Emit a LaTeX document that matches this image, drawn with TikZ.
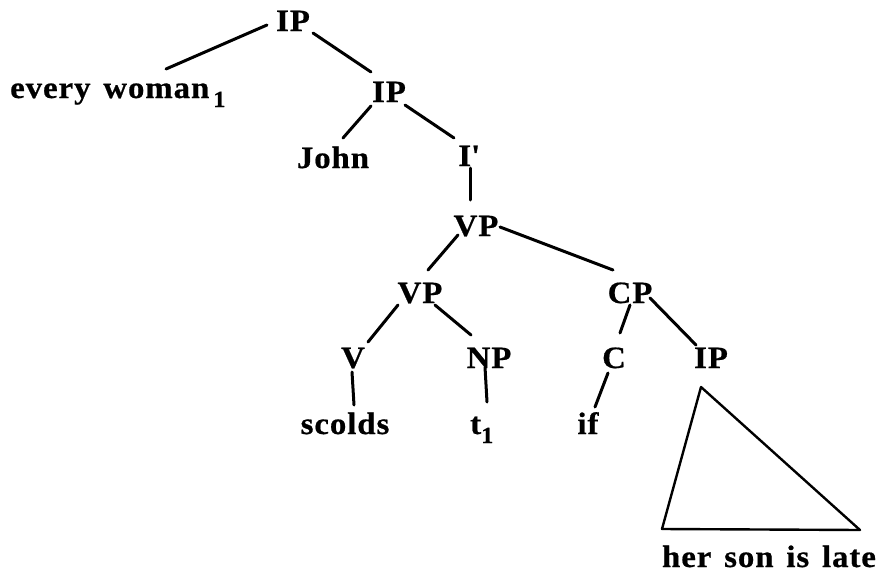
\documentclass[tikz,border=0pt]{standalone}
\usepackage{fontspec}
\setmainfont{Liberation Serif}[FakeStretch=1.06,LetterSpace=3,WordSpace=1.4,BoldFeatures={FakeBold=0.6}]
\usetikzlibrary{calc}
\tikzset{
  lbl/.style={inner sep=0pt, anchor=base, font=\fontsize{31}{32}\selectfont\bfseries},
  edge/.style={line width=3pt, line cap=round},
  tri/.style={line width=2.4pt, line join=round, line cap=round}
}
\newcommand{\subone}[1]{\hspace{#1}\raisebox{-9pt}{\fontsize{23}{23}\selectfont 1}}
\begin{document}
\begin{tikzpicture}[x=1pt,y=-1pt]
\useasboundingbox (0,0) rectangle (881,573);
% nodes
\node[lbl] (ip1) at (293,31) {IP};
\node[lbl, anchor=base west] (ew) at (10,98) {every woman\subone{4pt}};
\node[lbl] (ip2) at (389,102) {IP};
\node[lbl] (john) at (333,168) {John};
\node[lbl] (ib) at (469,166) {I\textquotesingle};
\node[lbl] (vp1) at (476,236) {VP};
\node[lbl] (vp2) at (420,303) {VP};
\node[lbl] (cp) at (630,303) {CP};
\node[lbl] (v) at (353,368) {V};
\node[lbl] (np) at (489,368) {NP};
\node[lbl] (c) at (614,368) {C};
\node[lbl] (ip3) at (711,368) {IP};
\node[lbl] (scolds) at (345,434) {scolds};
\node[lbl, anchor=base west] (t1) at (470,434) {t\subone{0pt}};
\node[lbl] (if) at (588,434) {if};
\node[lbl] (hsil) at (769,567) {her son is late};
% connectors
\draw[edge] ($(ip1.base)+(-26,-6)$) -- ($(ew.base west)+(156,-29)$);
\draw[edge] ($(ip1.base)+(20,2)$) -- ($(ip2.base)+(-18,-30)$);
\draw[edge] ($(ip2.base)+(-18,4)$) -- ($(john.base)+(10,-30)$);
\draw[edge] ($(ip2.base)+(16,3)$) -- ($(ib.base)+(-15,-28)$);
\draw[edge] ($(ib.base)+(1,2)$) -- ($(vp1.base)+(-6,-36)$);
\draw[edge] ($(vp1.base)+(-18,-1)$) -- ($(vp2.base)+(8,-33)$);
\draw[edge] ($(vp1.base)+(24,-9)$) -- ($(cp.base)+(-17,-33)$);
\draw[edge] ($(vp2.base)+(-22,2)$) -- ($(v.base)+(15,-26)$);
\draw[edge] ($(vp2.base)+(15,2)$) -- ($(np.base)+(-18,-33)$);
\draw[edge] ($(v.base)+(-1,4)$) -- ($(scolds.base)+(9,-29)$);
\draw[edge] ($(np.base)+(-4,-1)$) -- ($(t1.base west)+(17,-32)$);
\draw[edge] ($(cp.base)+(0,2)$) -- ($(c.base)+(6,-35)$);
\draw[edge] ($(c.base)+(-6,5)$) -- ($(if.base)+(7,-27)$);
\draw[edge] ($(cp.base)+(20,-5)$) -- ($(ip3.base)+(-15,-23)$);
% triangle
\draw[tri] ($(ip3.base)+(-10,19)$) -- ($(hsil.base)+(-107,-38)$) -- ($(hsil.base)+(91,-37)$) -- cycle;
\end{tikzpicture}
\end{document}
